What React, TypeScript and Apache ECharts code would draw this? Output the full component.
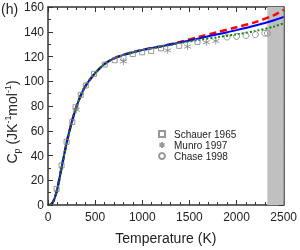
import React, { useEffect, useRef } from "react";
import * as echarts from "echarts";

// Model curves (shared temperature grid, K)
const tempK = [20, 50, 75, 100, 150, 200, 250, 300, 350, 400, 500, 600, 700, 800, 900, 1000, 1100, 1200, 1400, 1600, 1800, 2000, 2200, 2400, 2500];
const cpRed = [0, 2, 6.5, 13.5, 32.5, 51, 66.5, 79, 89, 96.5, 106.5, 114, 118.5, 121.3, 123.5, 125.3, 126.8, 128.3, 131.8, 135.8, 139.7, 143.6, 147.8, 153.5, 157.8];
const cpBlue = [0, 2, 6.5, 13.5, 32.5, 51, 66.5, 79, 89, 96.5, 106.5, 114, 118.5, 121.3, 123.5, 125.3, 126.8, 128.2, 131.3, 134.6, 138, 141.3, 145, 149.3, 152];
const cpGreen = [0, 2, 6.5, 13.5, 32.5, 51, 66.5, 79, 89, 96.5, 106.5, 114, 118.5, 121.3, 123.5, 125.3, 126.6, 127.9, 130.8, 133.4, 135.6, 137.9, 140.6, 144.3, 146.8];

// Experimental data
const schauerT = [92, 144, 197, 258, 292, 348, 401, 489, 601, 707, 800, 900, 999, 1094, 1199, 1392, 1586];
const schauerCp = [13, 32, 51, 67, 79, 89, 96.6, 106, 113.5, 117, 119, 122, 123.4, 124.5, 126.6, 128.6, 131.8];
const munroT = [300, 800, 1270, 1480, 1680, 1780];
const munroCp = [77, 116, 125, 128, 131.5, 132.5];
const chaseT = [1900, 2000, 2100, 2200, 2300, 2327];
const chaseCp = [135.7, 136.2, 137, 137.7, 138.8, 138.9];

const meltStart = 2327;
const xTicks = { min: 0, max: 2500, interval: 500 };
const yTicks = { min: 0, max: 160, interval: 20 };

const pairs = (xs: number[], ys: number[]) => xs.map((x, i) => [x, ys[i]]);

const FONT = "Liberation Sans, Arial, sans-serif";
const AX = "#333333";
const GRAY = "#808080";

export default function App() {
  const ref = useRef<HTMLDivElement>(null);
  useEffect(() => {
    if (!ref.current) return;
    const chart = echarts.init(ref.current, undefined, { renderer: "svg" });
    const axisLine = { show: true, onZero: false, lineStyle: { color: AX, width: 1.5 } };
    const tick = { show: true, inside: true, length: 5, lineStyle: { color: AX, width: 1 } };
    const minor = (n: number) => ({ show: true, splitNumber: n, length: 3, lineStyle: { color: AX, width: 1 } });
    const asterisk = "path://M5,0L5,10M0.7,2.5L9.3,7.5M0.7,7.5L9.3,2.5";
    const plain = (v: number) => String(v);
    chart.setOption({
      animation: false,
      textStyle: { fontFamily: FONT },
      grid: { left: 48, right: 15, top: 7, bottom: 38 },
      xAxis: [
        {
          type: "value", ...xTicks, position: "bottom",
          axisLine, axisTick: tick, minorTick: minor(5), splitLine: { show: false },
          axisLabel: { fontSize: 12, color: "#222", margin: 6, fontFamily: FONT, formatter: plain },
          name: "Temperature (K)", nameLocation: "middle", nameGap: 26,
          nameTextStyle: { fontSize: 14, color: "#222", fontFamily: FONT },
        },
        {
          type: "value", ...xTicks, position: "top",
          axisLine, axisTick: tick, minorTick: minor(5), splitLine: { show: false },
          axisLabel: { show: false },
        },
      ],
      yAxis: [
        {
          type: "value", ...yTicks, position: "left",
          axisLine, axisTick: tick, minorTick: minor(2), splitLine: { show: false },
          axisLabel: { fontSize: 12, color: "#222", margin: 4, fontFamily: FONT, formatter: plain },
        },
        {
          type: "value", ...yTicks, position: "right",
          axisLine, axisTick: tick, minorTick: minor(2), splitLine: { show: false },
          axisLabel: { show: false },
        },
      ],
      legend: {
        orient: "vertical", left: 153, top: 124, itemWidth: 6, itemHeight: 6, itemGap: 1,
        textStyle: { fontSize: 10, color: "#222", fontFamily: FONT, padding: [0, 0, 0, 4] },
        data: ["Schauer 1965", "Munro 1997", "Chase 1998"],
      },
      graphic: [
        { type: "text", left: 1, top: 2, style: { text: "(h)", fontSize: 14, fill: "#222", fontFamily: FONT } },
        {
          type: "text", x: 12, y: 122, rotation: Math.PI / 2,
          style: {
            text: "{n|C}{sub|p}{n| (JK}{sup|-1}{n|mol}{sup|-1}{n|)}",
            align: "center", verticalAlign: "middle", fill: "#222", fontFamily: FONT,
            rich: {
              n: { fontSize: 14, lineHeight: 18, verticalAlign: "middle", fontFamily: FONT, fill: "#222" },
              sub: { fontSize: 9, lineHeight: 18, verticalAlign: "bottom", fontFamily: FONT, fill: "#222" },
              sup: { fontSize: 9, lineHeight: 18, verticalAlign: "top", fontFamily: FONT, fill: "#222" },
            },
          },
        },
      ],
      series: [
        {
          name: "melt", type: "line", z: 1, data: [[meltStart, 0]], symbol: "none",
          lineStyle: { opacity: 0 },
          markArea: { silent: true, itemStyle: { color: "#c0c0c0" }, data: [[{ xAxis: meltStart }, { xAxis: 2500 }]] },
        },
        {
          name: "modelRed", type: "line", z: 3, data: pairs(tempK, cpRed), symbol: "none", smooth: 0.3,
          lineStyle: { color: "#ff0000", width: 2.5, type: [7, 4] },
        },
        {
          name: "modelBlue", type: "line", z: 4, data: pairs(tempK, cpBlue), symbol: "none", smooth: 0.3,
          lineStyle: { color: "#0000ff", width: 2 },
        },
        {
          name: "modelGreen", type: "line", z: 5, data: pairs(tempK, cpGreen), symbol: "none", smooth: 0.3,
          lineStyle: { color: "#008800", width: 2, type: [2, 2] },
        },
        {
          name: "Schauer 1965", type: "scatter", z: 6, data: pairs(schauerT, schauerCp),
          symbol: "rect", symbolSize: 5,
          itemStyle: { color: "transparent", borderColor: GRAY, borderWidth: 1 },
        },
        {
          name: "Munro 1997", type: "scatter", z: 6, data: pairs(munroT, munroCp),
          symbol: asterisk, symbolSize: 7,
          itemStyle: { color: "transparent", borderColor: GRAY, borderWidth: 1 },
        },
        {
          name: "Chase 1998", type: "scatter", z: 6, data: pairs(chaseT, chaseCp),
          symbol: "circle", symbolSize: 6,
          itemStyle: { color: "transparent", borderColor: GRAY, borderWidth: 1 },
        },
      ],
    });
    return () => chart.dispose();
  }, []);
  return <div ref={ref} style={{ position: "fixed", left: 0, top: 0, width: 300, height: 250 }} />;
}
